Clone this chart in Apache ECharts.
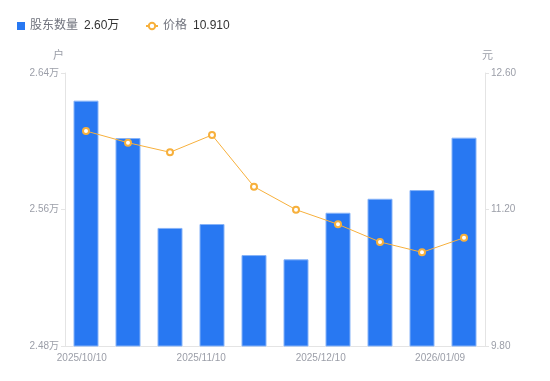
<!DOCTYPE html>
<html><head><meta charset="utf-8">
<script src="https://cdn.jsdelivr.net/npm/echarts@6/dist/echarts.min.js"></script>
<style>html,body{margin:0;padding:0;background:#fff}#c{width:550px;height:381px}</style>
</head><body><div id="c"></div>
<script>
const categories = ['2025/10/10','2025/10/20','2025/10/31','2025/11/10','2025/11/20','2025/11/28','2025/12/10','2025/12/19','2025/12/31','2026/01/09'];
const holders = [2.6238, 2.6019, 2.5492, 2.5515, 2.5333, 2.5308, 2.5581, 2.5663, 2.5714, 2.6021]; // 万户
const prices = [12.005, 11.885, 11.787, 11.964, 11.434, 11.198, 11.048, 10.867, 10.761, 10.910]; // 元
const xTickLabels = ['2025/10/10', '2025/11/10', '2025/12/10', '2026/01/09'];
const leftAxis = {min: 2.48, max: 2.64, interval: 0.08};
const rightAxis = {min: 9.80, max: 12.60, interval: 1.40};

const F = "'Liberation Sans','Noto Sans CJK SC',sans-serif";
const labelColor = '#9b9ea8';
const lineColor = '#e4e4e4';
const barColor = '#2878f2';
const priceColor = '#f7b03c';

const chart = echarts.init(document.getElementById('c'), null, {renderer: 'canvas'});
const legendRich = {
  n: {color: '#70737d', fontSize: 12, fontFamily: F},
  v: {color: '#333', fontSize: 12, fontFamily: F, padding: [0, 0, 0, 6]}
};
chart.setOption({
  animation: false,
  textStyle: {fontFamily: F},
  legend: [{
    left: 12, top: 15, itemWidth: 8, itemHeight: 8, icon: 'rect', itemGap: 6,
    data: ['股东数量'],
    itemStyle: {borderWidth: 0, color: barColor},
    formatter: n => '{n|' + n + '}{v|' + holders[holders.length - 1].toFixed(2) + '万}',
    textStyle: {rich: legendRich}
  }, {
    left: 140, top: 15, itemWidth: 12, itemHeight: 8,
    data: ['价格'],
    formatter: n => '{n|' + n + '}{v|' + prices[prices.length - 1].toFixed(3) + '}',
    textStyle: {rich: legendRich}
  }],
  grid: {left: 65, right: 65, top: 73, bottom: 35},
  xAxis: [{
    type: 'category', data: categories, boundaryGap: true,
    axisLine: {lineStyle: {color: lineColor}},
    axisTick: {show: false}, axisLabel: {show: false}
  }, {
    type: 'value', position: 'bottom', min: -0.1407, max: 3.376,
    axisLine: {show: false}, axisTick: {show: false}, splitLine: {show: false},
    axisLabel: {
      customValues: xTickLabels.map((_, i) => i),
      formatter: v => xTickLabels[Math.round(v)],
      color: labelColor, fontSize: 10, fontFamily: F, margin: 7
    }
  }],
  yAxis: [{
    type: 'value', position: 'left', name: '户',
    min: leftAxis.min, max: leftAxis.max, interval: leftAxis.interval,
    nameGap: 12, nameTextStyle: {color: labelColor, fontSize: 11, padding: [0, 13, 0, 0]},
    axisLine: {show: true, onZero: false, lineStyle: {color: lineColor}},
    axisTick: {show: true, length: 4, lineStyle: {color: lineColor}},
    splitLine: {show: false},
    axisLabel: {color: labelColor, fontSize: 10, margin: 6, formatter: v => v.toFixed(2) + '万'}
  }, {
    type: 'value', position: 'right', name: '元',
    min: rightAxis.min, max: rightAxis.max, interval: rightAxis.interval,
    nameGap: 12, nameTextStyle: {color: labelColor, fontSize: 11, padding: [0, 0, 0, 5]},
    axisLine: {show: true, onZero: false, lineStyle: {color: lineColor}},
    axisTick: {show: true, length: 4, lineStyle: {color: lineColor}},
    splitLine: {show: false},
    axisLabel: {color: labelColor, fontSize: 10, margin: 6, formatter: v => v.toFixed(2)}
  }],
  series: [{
    name: '股东数量', type: 'bar', xAxisIndex: 0, yAxisIndex: 0,
    data: holders, barWidth: 25,
    itemStyle: {color: barColor, borderColor: '#86b3f8', borderWidth: 1}
  }, {
    name: '价格', type: 'line', xAxisIndex: 0, yAxisIndex: 1,
    data: prices, symbol: 'circle', symbolSize: 6,
    lineStyle: {color: priceColor, width: 1},
    itemStyle: {color: '#fff', borderColor: priceColor, borderWidth: 2}
  }]
});
</script>
</body></html>
